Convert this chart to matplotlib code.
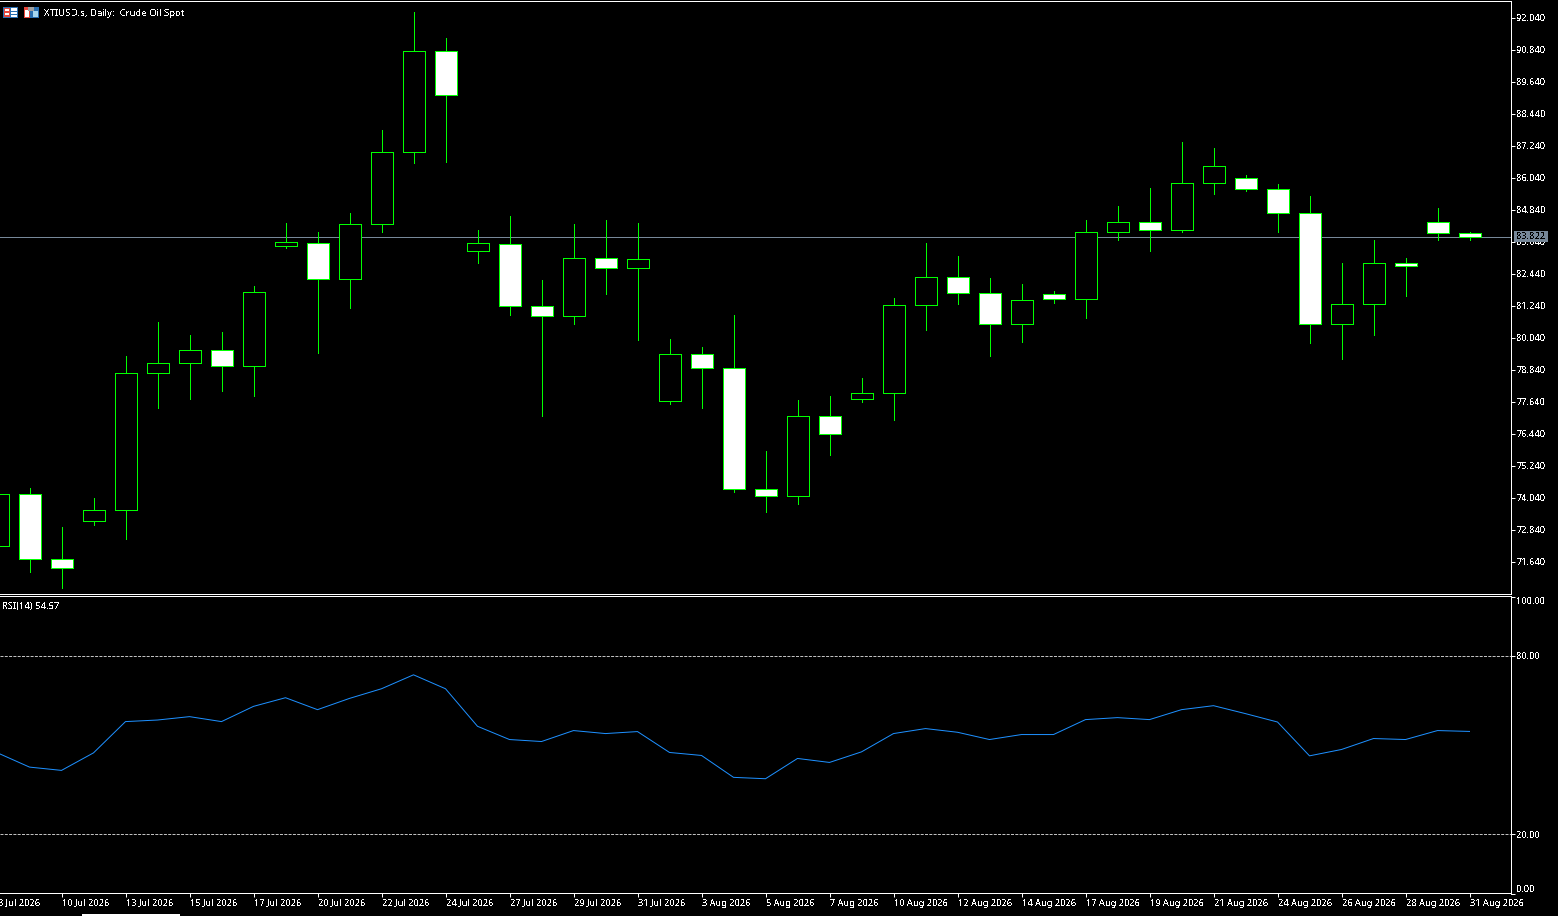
import matplotlib
matplotlib.use('Agg')
import matplotlib.pyplot as plt
from matplotlib.patches import Rectangle
from matplotlib.transforms import ScaledTranslation

W, H = 1558, 916
PX = 72 / 100  # one pixel in points

# candles, first one is only half on screen
opens = [72.22, 74.19, 71.73, 73.16, 73.57, 78.71, 79.08, 79.58, 78.96, 83.46, 83.59, 82.23,
         84.30, 87.00, 90.79, 83.28, 83.55, 81.22, 80.84, 83.03, 82.64, 77.65, 79.43, 78.90,
         74.36, 74.09, 77.10, 77.73, 77.96, 81.26, 82.32, 81.71, 80.54, 81.68, 81.48, 84.00,
         84.38, 84.06, 85.84, 86.03, 85.60, 84.71, 80.54, 81.30, 82.84, 84.38, 83.97]
highs = [74.19, 74.38, 72.92, 74.04, 79.33, 80.64, 80.15, 80.23, 81.99, 84.35, 84.01, 84.72,
         87.84, 92.23, 91.29, 84.09, 84.61, 82.18, 84.31, 84.46, 84.35, 79.99, 79.70, 80.90,
         75.80, 77.68, 77.86, 78.54, 81.54, 83.60, 83.11, 82.29, 82.03, 81.80, 84.46, 84.99,
         85.66, 87.39, 87.13, 86.15, 85.81, 85.36, 82.85, 83.68, 83.04, 84.88, 84.01]
lows = [72.22, 71.24, 70.64, 73.00, 72.50, 77.38, 77.75, 78.03, 77.86, 83.38, 79.45, 81.13,
        83.99, 86.58, 86.61, 82.85, 80.90, 77.11, 80.53, 81.69, 79.93, 77.53, 77.41, 74.23,
        73.48, 73.78, 75.65, 77.64, 76.96, 80.34, 81.28, 79.33, 79.89, 81.35, 80.79, 83.68,
        83.30, 83.98, 85.44, 85.55, 83.98, 79.85, 79.25, 80.15, 81.61, 83.68, 83.71]
closes = [74.19, 71.73, 71.40, 73.58, 78.72, 79.09, 79.58, 78.96, 81.75, 83.63, 82.23, 84.30,
          87.00, 90.79, 89.13, 83.59, 81.22, 80.84, 83.03, 82.64, 82.99, 79.43, 78.90, 74.35,
          74.09, 77.10, 76.41, 77.97, 81.26, 82.32, 81.71, 80.54, 81.45, 81.48, 84.00, 84.38,
          84.06, 85.84, 86.48, 85.60, 84.71, 80.54, 81.30, 82.84, 82.71, 83.95, 83.82]
rsi = [47.35, 42.56, 41.45, 47.35, 57.88, 58.41, 59.55, 57.88, 63.01, 65.92, 61.90, 65.69,
       68.94, 73.63, 68.94, 56.30, 51.84, 51.17, 54.86, 53.85, 54.52, 47.49, 46.48, 39.11,
       38.64, 45.47, 44.13, 47.69, 53.85, 55.53, 54.29, 51.84, 53.52, 53.52, 58.55, 59.22,
       58.55, 61.90, 63.24, 60.56, 57.74, 46.35, 48.49, 52.18, 51.84, 54.86, 54.57]
last_price = 83.822

date_labels = ['8 Jul 2026', '10 Jul 2026', '13 Jul 2026', '15 Jul 2026', '17 Jul 2026', '20 Jul 2026',
               '22 Jul 2026', '24 Jul 2026', '27 Jul 2026', '29 Jul 2026', '31 Jul 2026', '3 Aug 2026',
               '5 Aug 2026', '7 Aug 2026', '10 Aug 2026', '12 Aug 2026', '14 Aug 2026', '17 Aug 2026',
               '19 Aug 2026', '21 Aug 2026', '24 Aug 2026', '26 Aug 2026', '28 Aug 2026', '31 Aug 2026']
price_ticks = [71.64, 72.84, 74.04, 75.24, 76.44, 77.64, 78.84, 80.04, 81.24, 82.44, 83.64,
               84.84, 86.04, 87.24, 88.44, 89.64, 90.84, 92.04]
rsi_ticks = [0, 20, 80, 100]

plt.rcParams['font.family'] = ['Noto Sans', 'DejaVu Sans']
plt.rcParams['text.antialiased'] = False
plt.rcParams['text.hinting'] = 'force_autohint'

GREEN = '#00ff00'
GREY = '#778899'
SLOT = 32  # pixels per candle
AXIS_SIZE = 6.6
xs = list(range(-1, 46))
tick_xs = xs[::2]
RIGHT = 1510.5
left_k = -29.5 / SLOT
right_k = (RIGHT - 29.5) / SLOT

fig = plt.figure(figsize=(W / 100, H / 100), dpi=100, facecolor='black')
ax = fig.add_axes([0, 1 - 593.5 / H, RIGHT / W, 593 / H], facecolor='black')
ax2 = fig.add_axes([0, 1 - 893.5 / H, RIGHT / W, 297 / H], facecolor='black')

for a in (ax, ax2):
    a.set_xlim(left_k, right_k)
    a.spines['left'].set_visible(False)
    for s in ('top', 'right', 'bottom'):
        a.spines[s].set_color('white')
        a.spines[s].set_linewidth(PX)
    a.yaxis.tick_right()
    a.tick_params(axis='y', colors='white', length=4 * PX, width=PX, pad=2 * PX, labelsize=AXIS_SIZE)

# rsi frame sits one pixel off its scale
ax2.spines['top'].set_position(('outward', PX))
ax2.spines['bottom'].set_position(('outward', -PX))

# price pane
ax.set_ylim(70.44, 92.6775)
ax.axhline(last_price, color=GREY, lw=PX, zorder=1)
for x, lo, hi in zip(xs, lows, highs):
    ax.plot([x, x], [lo, hi], color=GREEN, lw=PX, antialiased=False, solid_capstyle='butt', zorder=2)
bottoms = [min(o, c) for o, c in zip(opens, closes)]
heights = [abs(o - c) for o, c in zip(opens, closes)]
fills = ['black' if c > o else 'white' for o, c in zip(opens, closes)]
ax.bar(xs, heights, width=22 / SLOT, bottom=bottoms, color=fills, edgecolor=GREEN,
       linewidth=PX, antialiased=False, zorder=3)
ax.set_yticks(price_ticks, ['%.3f' % t for t in price_ticks])
ax.set_xticks([])

# rsi pane
ax2.set_ylim(0, 100)
ax2.axhline(80, color='#c0c0c0', lw=PX, dashes=(3, 1.3))
ax2.axhline(20, color='#c0c0c0', lw=PX, dashes=(3, 1.3))
ax2.plot(xs, rsi, color='#1e90ff', lw=PX)
ax2.set_yticks(rsi_ticks, ['%.2f' % t for t in rsi_ticks])
for t, v in zip(ax2.yaxis.get_major_ticks(), rsi_ticks):
    if v == 100:
        t.label2.set_va('top')
        t.label2.set_transform(t.label2.get_transform() + ScaledTranslation(0, -1 / 100, fig.dpi_scale_trans))
    if v == 0:
        t.label2.set_va('bottom')
ax2.set_xticks(tick_xs[1:], date_labels[1:], ha='left')
ax2.tick_params(axis='x', colors='white', length=4 * PX, width=PX, pad=2 * PX, labelsize=AXIS_SIZE)
ax2.text(tick_xs[0], -9 / 297, date_labels[0], color='white', fontsize=AXIS_SIZE, ha='left', va='center',
         transform=ax2.get_xaxis_transform(), clip_on=False)

# last price box on the axis
y_box = ax.transData.transform((0, last_price))[1] / H
ax.add_patch(Rectangle((1514 / W, y_box - 5.5 / H), 34 / W, 11 / H, transform=fig.transFigure,
                       facecolor=GREY, edgecolor='none', clip_on=False, zorder=10))
ax.text(1531 / W, y_box, '%.3f' % last_price, color='black', fontsize=AXIS_SIZE, ha='center', va='center',
        transform=fig.transFigure, zorder=11)

# header texts
fig.text(44.5 / W, 1 - 13.5 / H, 'XTIUSD.s, Daily:  Crude Oil Spot', color='white', fontsize=6.9, va='center')
fig.text(2 / W, 1 - 606 / H, 'RSI(14) 54.57', color='white', fontsize=6.8, va='center')


def box(x, y, w, h, color):
    ax.add_patch(Rectangle((x / W, 1 - (y + h) / H), w / W, h / H, transform=fig.transFigure,
                           facecolor=color, edgecolor='none', clip_on=False, zorder=12))


# the two little toolbar icons
box(3, 7, 15, 11, '#2a6fb0')
box(4, 8, 6, 9, '#e8483c')
box(5, 9, 4, 2, 'white')
box(5, 13, 4, 2, 'white')
box(11, 8, 6, 9, 'white')
box(11, 11, 6, 1, '#2a6fb0')
box(11, 14, 6, 1, '#2a6fb0')
box(24, 7, 6, 11, '#e8483c')
box(25, 10, 4, 7, 'white')
box(30, 7, 9, 11, '#2a6fb0')
box(33, 11, 5, 6, '#a8d8f0')
box(28, 7, 6, 4, '#a0a0a0')

# scrollbar sliver at the very bottom
box(82, 914, 98, 2, 'white')

fig.savefig('out.png', dpi=100, facecolor='black')
